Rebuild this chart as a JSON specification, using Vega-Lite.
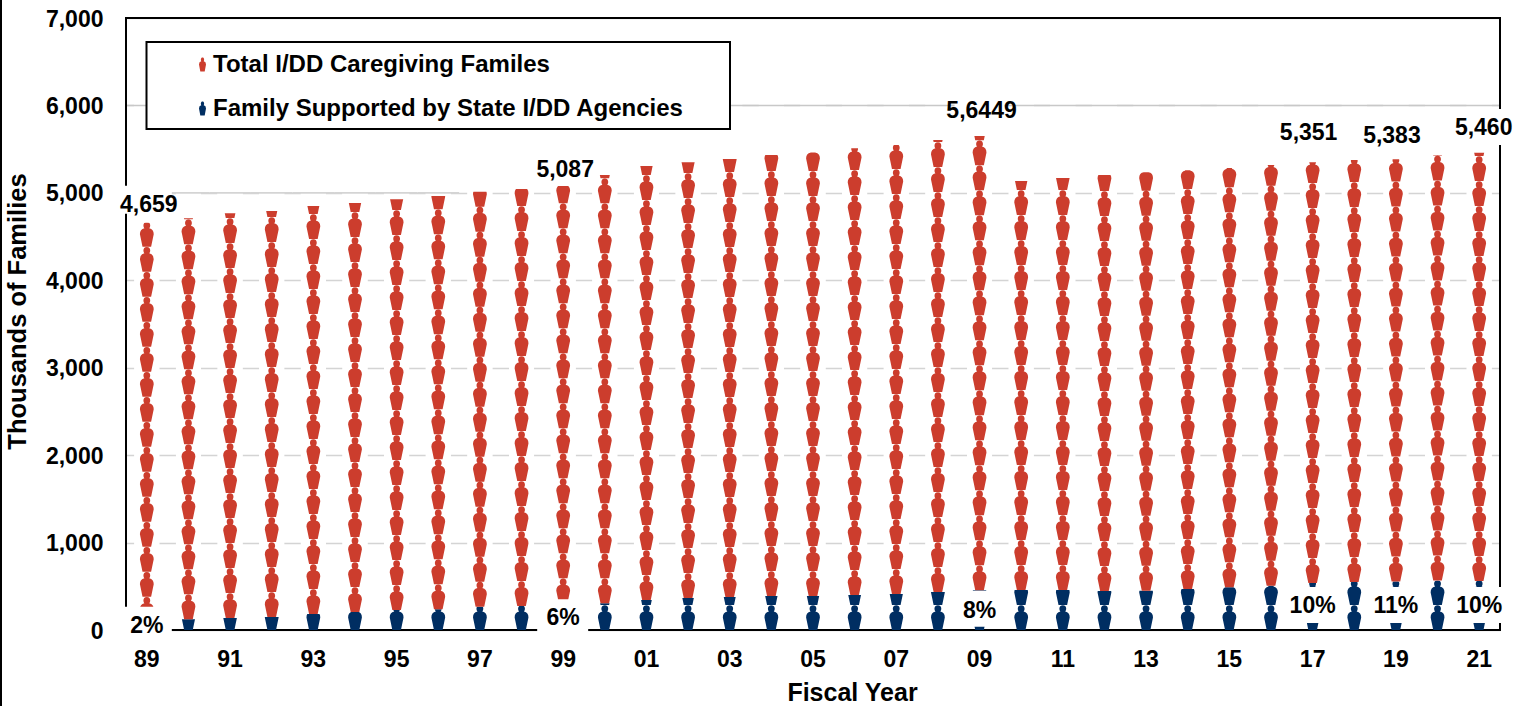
{"$schema":"https://vega.github.io/schema/vega-lite/v6.json","width":1374,"height":612,"autosize":{"type":"none"},"padding":{"left":126,"top":18,"right":31,"bottom":76},"background":"white","config":{"view":{"stroke":null},"font":"Liberation Sans","axis":{"labelFont":"Liberation Sans","titleFont":"Liberation Sans","labelFontWeight":"bold","titleFontWeight":"bold","labelColor":"#000000","titleColor":"#000000"}},"datasets":{"bars":[{"fy":"89","blue":93,"total":4659},{"fy":"90","blue":122,"total":4709},{"fy":"91","blue":137,"total":4766},{"fy":"92","blue":149,"total":4792},{"fy":"93","blue":183,"total":4850},{"fy":"94","blue":206,"total":4884},{"fy":"95","blue":229,"total":4926},{"fy":"96","blue":236,"total":4964},{"fy":"97","blue":267,"total":5012},{"fy":"98","blue":275,"total":5044},{"fy":"99","blue":305,"total":5080},{"fy":"00","blue":305,"total":5204},{"fy":"01","blue":343,"total":5307},{"fy":"02","blue":366,"total":5349},{"fy":"03","blue":377,"total":5387},{"fy":"04","blue":389,"total":5433},{"fy":"05","blue":389,"total":5463},{"fy":"06","blue":400,"total":5509},{"fy":"07","blue":412,"total":5547},{"fy":"08","blue":435,"total":5605},{"fy":"09","blue":455,"total":5649},{"fy":"10","blue":458,"total":5135},{"fy":"11","blue":458,"total":5170},{"fy":"12","blue":446,"total":5204},{"fy":"13","blue":450,"total":5235},{"fy":"14","blue":469,"total":5258},{"fy":"15","blue":488,"total":5284},{"fy":"16","blue":507,"total":5318},{"fy":"17","blue":537,"total":5351},{"fy":"18","blue":549,"total":5376},{"fy":"19","blue":555,"total":5383},{"fy":"20","blue":565,"total":5433},{"fy":"21","blue":560,"total":5460}],"labels":[{"fy":"89","label":"2%","ly":49},{"fy":"99","label":"6%","ly":134},{"fy":"09","label":"8%","ly":221},{"fy":"17","label":"10%","ly":275},{"fy":"19","label":"11%","ly":275},{"fy":"21","label":"10%","ly":275}],"totals":[{"fy":"89","label":"4,659","ly":4864},{"fy":"99","label":"5,087","ly":5261},{"fy":"09","label":"5,6449","ly":5940},{"fy":"17","label":"5,351","ly":5684},{"fy":"19","label":"5,383","ly":5650},{"fy":"21","label":"5,460","ly":5742}]},"data":{"name":"bars"},"encoding":{"x":{"field":"fy","type":"nominal","scale":{"type":"band","paddingInner":0,"paddingOuter":0,"domain":["89","90","91","92","93","94","95","96","97","98","99","00","01","02","03","04","05","06","07","08","09","10","11","12","13","14","15","16","17","18","19","20","21"]},"axis":{"values":["89","91","93","95","97","99","01","03","05","07","09","11","13","15","17","19","21"],"domain":false,"ticks":false,"labelAngle":0,"labelFontSize":23,"labelPadding":18,"title":"Fiscal Year","titleFontSize":25,"titleBaseline":"middle","titleX":726,"titleY":62}}},"layer":[{"mark":{"type":"bar","color":"white","width":25},"encoding":{"y":{"datum":30,"type":"quantitative","scale":{"domain":[0,7000],"nice":false},"stack":null,"axis":{"values":[0,1000,2000,3000,4000,5000,6000,7000],"labelExpr":"format(datum.value, ',')","domain":false,"ticks":false,"grid":true,"gridColor":"#d4d4d4","gridWidth":1.5,"labelFontSize":23,"labelPadding":23,"labelOffset":1,"title":"Thousands of Families","titleFontSize":25.5,"titleBaseline":"middle","titleX":-109,"titleY":293}},"y2":{"datum":6960}}},{"data":{"values":[{"box":"frame"}]},"mark":{"type":"rect","fill":null,"stroke":"#000000","strokeWidth":2},"encoding":{"x":{"value":0},"x2":{"value":1374},"y":{"value":0},"y2":{"value":612}}},{"mark":{"type":"point","filled":true,"opacity":1,"size":4,"shape":"M-4.3,0l-2.6,-12.5q-0.1,-5,4.5,-6.1c-1.6,-1.5,-1.6,-6.2,2.4,-6.2c4,0,4,4.7,2.4,6.2q4.6,1.1,4.5,6.1l-2.6,12.5zm0,-25l-2.6,-12.5q-0.1,-5,4.5,-6.1c-1.6,-1.5,-1.6,-6.2,2.4,-6.2c4,0,4,4.7,2.4,6.2q4.6,1.1,4.5,6.1l-2.6,12.5z"},"encoding":{"y":{"datum":0,"type":"quantitative"},"color":{"datum":"Family Supported by State I/DD Agencies","type":"nominal","scale":{"domain":["Total I/DD Caregiving Familes","Family Supported by State I/DD Agencies"],"range":["#CC3D2D","#002E62"]},"legend":{"title":null,"orient":"none","legendX":64.5,"legendY":34.5,"padding":0,"symbolType":"M-2.2,7L-3.5,0Q-3.6,-2.6,-1.2,-3.2C-1.9,-4.2,-1.9,-7,0,-7C1.9,-7,1.9,-4.2,1.2,-3.2Q3.6,-2.6,3.5,0L2.2,7Z","symbolSize":4,"labelFont":"Liberation Sans","labelFontWeight":"bold","labelFontSize":24,"labelColor":"#000000","labelLimit":800,"labelOffset":-1.5,"rowPadding":20,"symbolStrokeWidth":0}}}},{"mark":{"type":"bar","color":"white","width":25},"encoding":{"y":{"field":"blue","type":"quantitative","stack":null},"y2":{"datum":6960}}},{"mark":{"type":"point","filled":true,"opacity":1,"size":4,"shape":"M-4.3,0l-2.6,-12.5q-0.1,-5,4.5,-6.1c-1.6,-1.5,-1.6,-6.2,2.4,-6.2c4,0,4,4.7,2.4,6.2q4.6,1.1,4.5,6.1l-2.6,12.5zm0,-25l-2.6,-12.5q-0.1,-5,4.5,-6.1c-1.6,-1.5,-1.6,-6.2,2.4,-6.2c4,0,4,4.7,2.4,6.2q4.6,1.1,4.5,6.1l-2.6,12.5zm0,-25l-2.6,-12.5q-0.1,-5,4.5,-6.1c-1.6,-1.5,-1.6,-6.2,2.4,-6.2c4,0,4,4.7,2.4,6.2q4.6,1.1,4.5,6.1l-2.6,12.5zm0,-25l-2.6,-12.5q-0.1,-5,4.5,-6.1c-1.6,-1.5,-1.6,-6.2,2.4,-6.2c4,0,4,4.7,2.4,6.2q4.6,1.1,4.5,6.1l-2.6,12.5zm0,-25l-2.6,-12.5q-0.1,-5,4.5,-6.1c-1.6,-1.5,-1.6,-6.2,2.4,-6.2c4,0,4,4.7,2.4,6.2q4.6,1.1,4.5,6.1l-2.6,12.5zm0,-25l-2.6,-12.5q-0.1,-5,4.5,-6.1c-1.6,-1.5,-1.6,-6.2,2.4,-6.2c4,0,4,4.7,2.4,6.2q4.6,1.1,4.5,6.1l-2.6,12.5zm0,-25l-2.6,-12.5q-0.1,-5,4.5,-6.1c-1.6,-1.5,-1.6,-6.2,2.4,-6.2c4,0,4,4.7,2.4,6.2q4.6,1.1,4.5,6.1l-2.6,12.5zm0,-25l-2.6,-12.5q-0.1,-5,4.5,-6.1c-1.6,-1.5,-1.6,-6.2,2.4,-6.2c4,0,4,4.7,2.4,6.2q4.6,1.1,4.5,6.1l-2.6,12.5zm0,-25l-2.6,-12.5q-0.1,-5,4.5,-6.1c-1.6,-1.5,-1.6,-6.2,2.4,-6.2c4,0,4,4.7,2.4,6.2q4.6,1.1,4.5,6.1l-2.6,12.5zm0,-25l-2.6,-12.5q-0.1,-5,4.5,-6.1c-1.6,-1.5,-1.6,-6.2,2.4,-6.2c4,0,4,4.7,2.4,6.2q4.6,1.1,4.5,6.1l-2.6,12.5zm0,-25l-2.6,-12.5q-0.1,-5,4.5,-6.1c-1.6,-1.5,-1.6,-6.2,2.4,-6.2c4,0,4,4.7,2.4,6.2q4.6,1.1,4.5,6.1l-2.6,12.5zm0,-25l-2.6,-12.5q-0.1,-5,4.5,-6.1c-1.6,-1.5,-1.6,-6.2,2.4,-6.2c4,0,4,4.7,2.4,6.2q4.6,1.1,4.5,6.1l-2.6,12.5zm0,-25l-2.6,-12.5q-0.1,-5,4.5,-6.1c-1.6,-1.5,-1.6,-6.2,2.4,-6.2c4,0,4,4.7,2.4,6.2q4.6,1.1,4.5,6.1l-2.6,12.5zm0,-25l-2.6,-12.5q-0.1,-5,4.5,-6.1c-1.6,-1.5,-1.6,-6.2,2.4,-6.2c4,0,4,4.7,2.4,6.2q4.6,1.1,4.5,6.1l-2.6,12.5zm0,-25l-2.6,-12.5q-0.1,-5,4.5,-6.1c-1.6,-1.5,-1.6,-6.2,2.4,-6.2c4,0,4,4.7,2.4,6.2q4.6,1.1,4.5,6.1l-2.6,12.5zm0,-25l-2.6,-12.5q-0.1,-5,4.5,-6.1c-1.6,-1.5,-1.6,-6.2,2.4,-6.2c4,0,4,4.7,2.4,6.2q4.6,1.1,4.5,6.1l-2.6,12.5zm0,-25l-2.6,-12.5q-0.1,-5,4.5,-6.1c-1.6,-1.5,-1.6,-6.2,2.4,-6.2c4,0,4,4.7,2.4,6.2q4.6,1.1,4.5,6.1l-2.6,12.5zm0,-25l-2.6,-12.5q-0.1,-5,4.5,-6.1c-1.6,-1.5,-1.6,-6.2,2.4,-6.2c4,0,4,4.7,2.4,6.2q4.6,1.1,4.5,6.1l-2.6,12.5zm0,-25l-2.6,-12.5q-0.1,-5,4.5,-6.1c-1.6,-1.5,-1.6,-6.2,2.4,-6.2c4,0,4,4.7,2.4,6.2q4.6,1.1,4.5,6.1l-2.6,12.5zm0,-25l-2.6,-12.5q-0.1,-5,4.5,-6.1c-1.6,-1.5,-1.6,-6.2,2.4,-6.2c4,0,4,4.7,2.4,6.2q4.6,1.1,4.5,6.1l-2.6,12.5z"},"encoding":{"y":{"field":"blue","type":"quantitative"},"color":{"datum":"Total I/DD Caregiving Familes","type":"nominal"}}},{"mark":{"type":"bar","color":"white","width":25},"encoding":{"y":{"field":"total","type":"quantitative","stack":null},"y2":{"datum":6960}}},{"transform":[{"filter":"datum.total < 5000"}],"mark":{"type":"bar","color":"#d4d4d4","width":{"band":1}},"encoding":{"y":{"datum":4991,"type":"quantitative"},"y2":{"datum":5009}}},{"data":{"values":[{"grid":6000}]},"mark":{"type":"rule","color":"#c8c8c8","strokeWidth":1.5},"encoding":{"x":{"value":1},"x2":{"value":1373},"y":{"field":"grid","type":"quantitative"}}},{"data":{"values":[{"box":"legend"}]},"mark":{"type":"rect","fill":"white","stroke":"#000000","strokeWidth":2},"encoding":{"x":{"value":20.5},"x2":{"value":604},"y":{"value":24},"y2":{"value":111}}},{"data":{"name":"labels"},"mark":{"type":"point","filled":true,"opacity":1,"size":4,"color":"white"},"encoding":{"y":{"field":"ly","type":"quantitative"},"shape":{"field":"fy","type":"nominal","legend":null,"scale":{"domain":["89","99","09","17","19","21"],"range":["M-25,-19H25V9H-25Z","M-26,-19H25V16H-26Z","M-25,-20H25V16H-25Z","M-23,-19H24V17H-23Z","M-24,-19H24V17H-24Z","M-24,-19H24V17H-24Z"]}}}},{"data":{"name":"totals"},"mark":{"type":"point","filled":true,"opacity":1,"size":4,"color":"white"},"encoding":{"y":{"field":"ly","type":"quantitative"},"shape":{"field":"label","type":"nominal","legend":null,"scale":{"domain":["4,659","5,087","5,6449","5,351","5,383","5,460"],"range":["M-22,-19H40V17H-22Z","M-30,-13H30V13H-30Z","M-43,-15H47V15H-43Z","M-30,-13H30V13H-30Z","M-30,-13H30V13H-30Z","M-30,-18H30V18H-30Z"]}}}},{"data":{"name":"labels"},"mark":{"type":"text","font":"Liberation Sans","fontWeight":"bold","fontSize":23,"color":"#000000"},"encoding":{"y":{"field":"ly","type":"quantitative"},"text":{"field":"label","type":"nominal"}}},{"data":{"name":"totals"},"transform":[{"filter":{"field":"label","oneOf":["4,659","5,087","5,6449"]}}],"mark":{"type":"text","font":"Liberation Sans","fontWeight":"bold","fontSize":23,"color":"#000000","dx":2},"encoding":{"y":{"field":"ly","type":"quantitative"},"text":{"field":"label","type":"nominal"}}},{"data":{"name":"totals"},"transform":[{"filter":{"field":"label","oneOf":["5,351","5,383"]}}],"mark":{"type":"text","font":"Liberation Sans","fontWeight":"bold","fontSize":23,"color":"#000000","dx":-4},"encoding":{"y":{"field":"ly","type":"quantitative"},"text":{"field":"label","type":"nominal"}}},{"data":{"name":"totals"},"transform":[{"filter":{"field":"label","equal":"5,460"}}],"mark":{"type":"text","font":"Liberation Sans","fontWeight":"bold","fontSize":23,"color":"#000000","dx":4.5},"encoding":{"y":{"field":"ly","type":"quantitative"},"text":{"field":"label","type":"nominal"}}},{"data":{"values":[{"edge":"left"}]},"mark":{"type":"rule","color":"#000000","strokeWidth":2},"encoding":{"x":{"value":-125},"y":{"value":-18},"y2":{"value":688}}}]}
